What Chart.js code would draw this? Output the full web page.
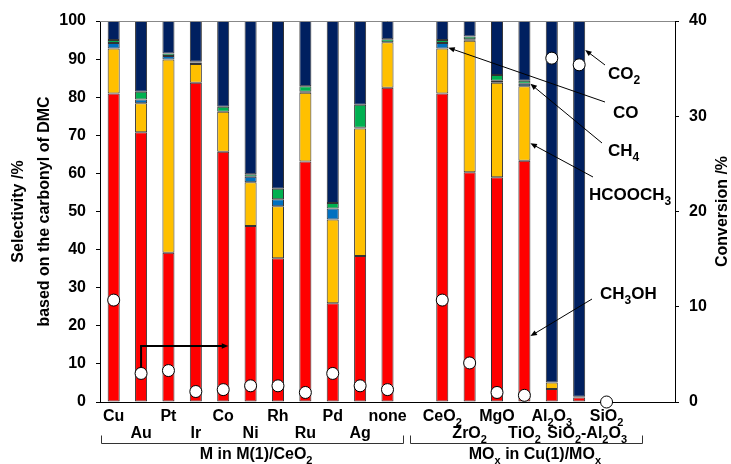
<!DOCTYPE html>
<html>
<head>
<meta charset="utf-8">
<script src="https://cdn.jsdelivr.net/npm/chart.js@4"></script>
<style>
  html, body { margin: 0; padding: 0; background: #fff; }
</style>
</head>
<body>
<canvas id="selChart" width="731" height="464"></canvas>
<script>
// Categories ('' = empty slot, '_' marks the next char as subscript)
const categories = ['Cu', 'Au', 'Pt', 'Ir', 'Co', 'Ni', 'Rh', 'Ru', 'Pd', 'Ag', 'none', '',
    'CeO_2', 'ZrO_2', 'MgO', 'TiO_2', 'Al_2O_3', 'SiO_2-Al_2O_3', 'SiO_2', '', ''];

// Selectivity /% (stacked, bottom to top)
const ch3oh   = [81.0, 70.8, 39.2, 83.8, 65.7, 46.2, 37.7, 63.1, 25.9, 38.3, 82.5, null, 81.0, 60.3, 59.0, 63.3, 3.4, 1.2, null, null, null];
const hcooch3 = [11.8, 7.6, 50.7, 4.9, 10.5, 11.5, 13.7, 18.1, 22.0, 33.5, 11.9, null, 11.8, 34.5, 24.8, 19.6, 1.7, 0.0, null, null, null];
const ch4     = [1.4, 1.0, 0.9, 0.4, 0.0, 1.4, 1.8, 0.2, 2.9, 0.2, 0.0, null, 1.4, 0.4, 0.5, 0.6, 0.0, 0.2, null, null, null];
const co      = [0.8, 2.0, 0.7, 0.2, 1.3, 0.7, 2.8, 1.5, 1.4, 6.0, 0.8, null, 0.8, 0.7, 1.5, 0.8, 0.0, 0.0, null, null, null];
const co2     = [5.0, 18.6, 8.5, 10.7, 22.5, 40.2, 44.0, 17.1, 47.8, 22.0, 4.8, null, 5.0, 4.1, 14.2, 15.7, 94.9, 98.6, null, null, null];

// Conversion /% (right axis)
const conversion = [10.7, 3.0, 3.3, 1.1, 1.3, 1.7, 1.7, 1.0, 3.0, 1.7, 1.3, null, 10.7, 4.1, 1.0, 0.7, 36.1, 35.4, 0.0, null, null];

// Axis ticks
const leftTicks = { min: 0, max: 100, step: 10 };
const rightTicks = { min: 0, max: 40, step: 10 };

const FONT = "'Liberation Sans', Arial, sans-serif";
const FS = 16;

// Draw text where '_x' puts x as a subscript
function drawRich(ctx, text, x, y, size, align) {
    const parts = [];
    for (let i = 0; i < text.length; i++) {
        if (text[i] === '_' && i + 1 < text.length) {
            parts.push({ t: text[i + 1], sub: true });
            i++;
        } else {
            parts.push({ t: text[i], sub: false });
        }
    }
    const subSize = Math.round(size * 0.68);
    const fontFor = p => `bold ${p.sub ? subSize : size}px ${FONT}`;
    let total = 0;
    parts.forEach(p => {
        ctx.font = fontFor(p);
        p.w = ctx.measureText(p.t).width;
        total += p.w;
    });
    let cx = x;
    if (align === 'center') cx = x - total / 2;
    else if (align === 'right') cx = x - total;
    ctx.textAlign = 'left';
    ctx.textBaseline = 'alphabetic';
    ctx.fillStyle = '#000';
    parts.forEach(p => {
        ctx.font = fontFor(p);
        ctx.fillText(p.t, cx, p.sub ? y + size * 0.3 : y);
        cx += p.w;
    });
}

// Line with a small filled arrowhead at (x2, y2)
function drawArrow(ctx, x1, y1, x2, y2, width, head) {
    const ang = Math.atan2(y2 - y1, x2 - x1);
    ctx.strokeStyle = '#000';
    ctx.fillStyle = '#000';
    ctx.lineWidth = width;
    ctx.beginPath();
    ctx.moveTo(x1, y1);
    ctx.lineTo(x2 - Math.cos(ang) * head * 0.8, y2 - Math.sin(ang) * head * 0.8);
    ctx.stroke();
    ctx.beginPath();
    ctx.moveTo(x2, y2);
    ctx.lineTo(x2 - head * Math.cos(ang - 0.4), y2 - head * Math.sin(ang - 0.4));
    ctx.lineTo(x2 - head * Math.cos(ang + 0.4), y2 - head * Math.sin(ang + 0.4));
    ctx.closePath();
    ctx.fill();
}

// Product labels on the right: text position, where the line starts, which bar it points at
const productNotes = [
    { text: 'CO_2',      tx: 608, ty: 79,  sx: 605, sy: 65,  bar: 17, value: 92.4 },
    { text: 'CO',        tx: 613, ty: 118, sx: 605, sy: 102, bar: 12, value: 93.0 },
    { text: 'CH_4',      tx: 608, ty: 156, sx: 602, sy: 143, bar: 15, value: 83.5 },
    { text: 'HCOOCH_3',  tx: 589, ty: 200, sx: 593, sy: 177, bar: 15, value: 67.9 },
    { text: 'CH_3OH',    tx: 600, ty: 299, sx: 592, sy: 299, bar: 15, value: 17.3 }
];

const overlayPlugin = {
    id: 'overlay',
    afterDraw(chart) {
        const ctx = chart.ctx;
        const area = chart.chartArea;
        const xs = chart.scales.x;
        const ys = chart.scales.y;
        const y1s = chart.scales.y1;
        const slot = xs.getPixelForValue(1) - xs.getPixelForValue(0);
        const halfBar = chart.getDatasetMeta(0).data[0].width / 2;

        ctx.save();
        // grey top frame line
        ctx.strokeStyle = '#888';
        ctx.lineWidth = 1;
        ctx.beginPath();
        ctx.moveTo(area.left, area.top + 0.5);
        ctx.lineTo(area.right, area.top + 0.5);
        ctx.stroke();

        // right axis title, reading bottom to top like the left one
        ctx.save();
        ctx.translate(chart.width - 8, (area.top + area.bottom) / 2);
        ctx.rotate(-Math.PI / 2);
        ctx.font = `bold ${FS}px ${FONT}`;
        ctx.fillStyle = '#000';
        ctx.textAlign = 'center';
        ctx.textBaseline = 'middle';
        ctx.fillText('Conversion /%', 0, 0);
        ctx.restore();

        // category labels, alternating rows
        categories.forEach((c, i) => {
            if (!c) return;
            const row = (i % 2 === 0) ? 0 : 1;
            const nudge = c.length > 10 ? 8 : 0;
            drawRich(ctx, c, xs.getPixelForValue(i) + nudge, area.bottom + 19 + row * 17, FS, 'center');
        });

        // group brackets
        const bracketY = area.bottom + 41.5;
        const groups = [
            [xs.getPixelForValue(0) - slot / 2 + 1, xs.getPixelForValue(10) + slot / 2 + 2],
            [xs.getPixelForValue(11) - 5, xs.getPixelForValue(19) + 8]
        ];
        ctx.strokeStyle = '#333';
        ctx.lineWidth = 1;
        groups.forEach(([a, b]) => {
            ctx.beginPath();
            ctx.moveTo(Math.round(a) + 0.5, bracketY - 8);
            ctx.lineTo(Math.round(a) + 0.5, bracketY);
            ctx.lineTo(Math.round(b) + 0.5, bracketY);
            ctx.lineTo(Math.round(b) + 0.5, bracketY - 8);
            ctx.stroke();
        });
        drawRich(ctx, 'M in M(1)/CeO_2', (groups[0][0] + groups[0][1]) / 2 + 4, area.bottom + 57, FS, 'center');
        drawRich(ctx, 'MO_x in Cu(1)/MO_x', (groups[1][0] + groups[1][1]) / 2 + 9, area.bottom + 57, FS, 'center');

        // product annotations with arrows to the bars
        productNotes.forEach(n => {
            drawRich(ctx, n.text, n.tx, n.ty, FS + 1, 'left');
            const tx = xs.getPixelForValue(n.bar) + halfBar;
            const ty = ys.getPixelForValue(n.value);
            drawArrow(ctx, n.sx, n.sy, tx, ty, 1, 7);
        });

        // bent arrow from Au to Co
        const auX = xs.getPixelForValue(1);
        const coX = xs.getPixelForValue(4);
        const startY = y1s.getPixelForValue(conversion[1]) - 6;
        const bendY = ys.getPixelForValue(14.7);
        ctx.strokeStyle = '#000';
        ctx.lineWidth = 2;
        ctx.beginPath();
        ctx.moveTo(auX, startY);
        ctx.lineTo(auX, bendY);
        ctx.stroke();
        drawArrow(ctx, auX - 1, bendY, coX + 5, bendY, 2, 7);
        ctx.restore();
    }
};

const barColors = ['#FF0000', '#FFC000', '#0070C0', '#00B050', '#002060'];
const barNames = ['CH3OH', 'HCOOCH3', 'CH4', 'CO', 'CO2'];
const barData = [ch3oh, hcooch3, ch4, co, co2];

const datasets = barData.map((d, i) => ({
    type: 'bar',
    label: barNames[i],
    data: d,
    backgroundColor: barColors[i],
    borderColor: '#333',
    borderWidth: 1,
    borderSkipped: false,
    barPercentage: 0.44,
    categoryPercentage: 1.0,
    yAxisID: 'y',
    order: 1
}));

datasets.push({
    type: 'line',
    label: 'Conversion',
    data: conversion,
    yAxisID: 'y1',
    showLine: false,
    pointRadius: 6,
    pointBackgroundColor: '#fff',
    pointBorderColor: '#000',
    pointBorderWidth: 1,
    clip: false,
    order: 0
});

const tickFont = { family: FONT, size: FS, weight: 'bold' };

new Chart(document.getElementById('selChart').getContext('2d'), {
    type: 'bar',
    data: { labels: categories, datasets },
    options: {
        responsive: false,
        animation: false,
        devicePixelRatio: 1,
        layout: { padding: { top: 21 } },
        plugins: { legend: { display: false }, tooltip: { enabled: false } },
        scales: {
            x: {
                stacked: true,
                grid: { display: false },
                border: { color: '#000', width: 1 },
                ticks: { display: false },
                afterFit: s => { s.height = 62; }
            },
            y: {
                stacked: true,
                position: 'left',
                min: leftTicks.min,
                max: leftTicks.max,
                ticks: { stepSize: leftTicks.step, color: '#000', font: tickFont, padding: 10 },
                grid: { drawOnChartArea: false, tickLength: 4, tickColor: '#000' },
                border: { color: '#000', width: 1 },
                title: {
                    display: true,
                    text: ['Selectivity /%', 'based on the carbonyl of DMC'],
                    color: '#000',
                    font: { family: FONT, size: FS, weight: 'bold', lineHeight: 1.625 },
                    padding: { top: 6, bottom: 0 }
                },
                afterFit: s => { s.width = 100; }
            },
            y1: {
                position: 'right',
                min: rightTicks.min,
                max: rightTicks.max,
                ticks: { stepSize: rightTicks.step, color: '#000', font: tickFont, padding: 10 },
                grid: { drawOnChartArea: false, tickLength: 4, tickColor: '#000' },
                border: { color: '#000', width: 1 },
                title: { display: false },
                afterFit: s => { s.width = 56; }
            }
        }
    },
    plugins: [overlayPlugin]
});
</script>
</body>
</html>
